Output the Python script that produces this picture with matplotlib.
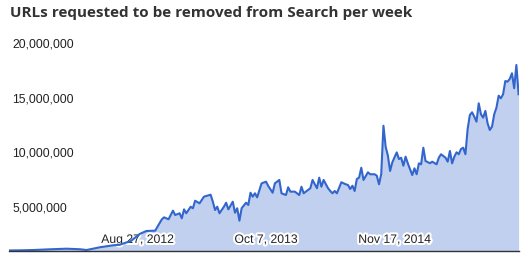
import numpy as np
import matplotlib
matplotlib.use('Agg')
import matplotlib.pyplot as plt
import matplotlib.patheffects as pe

# weeks counted from 2011-07-18, removals per week in millions
start = np.datetime64('2011-07-18')
weeks = [0, 5, 11, 19, 26, 32, 35, 41, 47, 50, 55, 59, 62, 66, 67, 69, 70, 72, 74, 75,
         77, 78, 79, 80, 82, 83, 84, 86, 88, 91, 92, 93, 94, 95, 97, 98, 99, 101, 102, 103,
         104, 105, 107, 108, 109, 110, 111, 112, 114, 116, 117, 119, 120, 122, 123, 125, 126, 127, 129, 131,
         132, 133, 134, 136, 137, 139, 140, 141, 142, 144, 145, 146, 147, 148, 149, 150, 152, 153, 154, 155,
         156, 157, 158, 159, 160, 162, 163, 165, 166, 167, 168, 169, 170, 171, 172, 173, 175, 176, 177, 178,
         179, 180, 182, 183, 184, 185, 186, 187, 188, 190, 191, 193, 194, 195, 197, 198, 199, 200, 201, 202,
         203, 204, 205, 206, 207, 208, 209, 210, 211, 212, 213, 214, 215, 216, 217, 218, 219, 220, 221, 222,
         223, 224, 225, 226, 227, 228, 229, 230]
urls_m = [1.02, 1.03, 1.06, 1.13, 1.18, 1.13, 1.06, 1.31, 1.49, 1.55, 1.88, 2.53, 2.80, 2.83, 3.19, 3.87, 4.05, 3.87, 4.66, 4.26,
          4.42, 3.96, 4.78, 4.42, 5.02, 4.88, 5.57, 5.33, 5.94, 6.12, 5.48, 4.72, 5.02, 4.42, 5.02, 5.39, 4.78, 5.48, 4.47, 4.88,
          3.74, 4.88, 5.39, 5.18, 6.30, 5.94, 6.25, 5.88, 7.16, 7.31, 6.92, 6.30, 7.16, 7.47, 6.25, 6.09, 6.80, 6.40, 6.40, 6.09,
          6.85, 6.25, 6.40, 6.71, 7.47, 6.71, 7.68, 6.85, 7.47, 6.71, 6.46, 6.25, 6.46, 6.25, 6.76, 7.26, 7.07, 7.01, 6.64, 6.94,
          6.46, 7.56, 7.68, 8.59, 7.47, 8.17, 7.99, 7.99, 7.86, 7.07, 8.00, 12.43, 10.50, 9.70, 8.29, 9.08, 9.99, 9.38, 9.50, 8.77,
          9.60, 8.99, 7.92, 8.53, 7.99, 8.99, 8.90, 10.42, 9.20, 9.00, 9.14, 8.90, 9.51, 9.82, 9.51, 9.14, 10.12, 8.99, 9.60, 10.00,
          9.82, 10.30, 10.42, 9.82, 12.13, 13.41, 13.66, 13.26, 12.80, 14.48, 13.48, 13.17, 13.78, 12.65, 12.04, 12.34, 13.48, 14.08, 15.18, 14.94,
          15.31, 16.52, 16.46, 16.71, 17.23, 15.86, 17.99, 15.31]
tick_weeks = [58, 116, 174]
tick_labels = ['Aug 27, 2012', 'Oct 7, 2013', 'Nov 17, 2014']
ytick_vals = [5e6, 10e6, 15e6, 20e6]

dates = start + np.array(weeks) * np.timedelta64(7, 'D')
vals = np.array(urls_m) * 1e6

fig = plt.figure(figsize=(5.26, 2.63), dpi=100)
ax = fig.add_axes([9 / 526, 12 / 263, 509.6 / 526, 216 / 263])

ax.fill_between(dates, vals, 0, color='#3366cc', alpha=0.3, lw=0)
ax.plot(dates, vals, color='#3366cc', lw=1.5)

ax.set_xlim(start, start + np.timedelta64(7 * 230, 'D'))
ax.set_ylim(0.97e6, 20.73e6)

for s in ['top', 'left', 'right']:
    ax.spines[s].set_visible(False)
ax.spines['bottom'].set_color('#333333')
ax.spines['bottom'].set_linewidth(1)

ax.set_yticks(ytick_vals)
ax.set_yticklabels(['{:,.0f}'.format(v) for v in ytick_vals])
ax.tick_params(axis='y', length=0, pad=-2.2, labelsize=8.8, labelcolor='#222222')
for t in ax.get_yticklabels():
    t.set_horizontalalignment('left')
    t.set_fontfamily('Liberation Sans')

ax.set_xticks(start + np.array(tick_weeks) * np.timedelta64(7, 'D'))
ax.set_xticklabels(tick_labels)
ax.tick_params(axis='x', length=0, pad=-8, labelsize=8.8, labelcolor='#222222')
for t in ax.get_xticklabels():
    t.set_verticalalignment('center')
    t.set_fontfamily('Liberation Sans')
    t.set_path_effects([pe.withStroke(linewidth=3, foreground='white')])

fig.text(10 / 526, 1 - 13 / 263, 'URLs requested to be removed from Search per week',
         fontfamily='Open Sans', fontweight='bold', fontsize=11, color='#333333',
         ha='left', va='center')

fig.savefig('out.png', dpi=100)
